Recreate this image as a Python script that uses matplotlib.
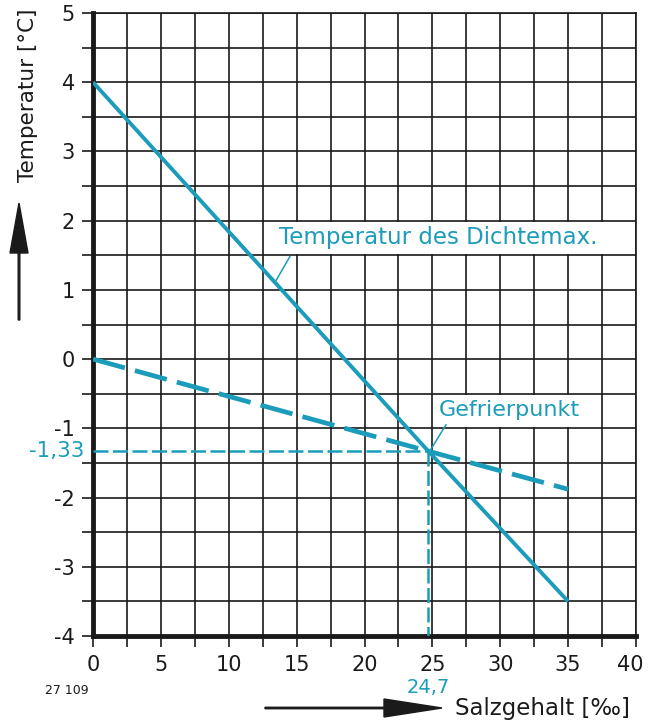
import matplotlib
matplotlib.use("Agg")
import matplotlib.pyplot as plt
import matplotlib.patches as mpatches
import matplotlib.transforms as mtransforms
import numpy as np

# salinity (per mille) and the two characteristic temperatures of sea water
salinity = [0, 24.7, 35]
t_density_max = [4.0, -1.33, -3.5]
t_freezing = [0.0, -1.33, -1.88]

cross_s = 24.7
cross_t = -1.33

xticks = [0, 5, 10, 15, 20, 25, 30, 35, 40]
yticks = [-4, -3, -2, -1, 0, 1, 2, 3, 4, 5]

teal = "#1b9cba"
ink = "#1a1a1a"

fig = plt.figure(figsize=(6.48, 7.26), dpi=100)
ax = fig.add_axes([93 / 648, 1 - 636 / 726, 543 / 648, 623 / 726])

ax.set_xlim(0, 40)
ax.set_ylim(-4, 5)
ax.set_xticks(xticks)
ax.set_yticks(yticks)
ax.set_xticks(np.arange(0, 40.1, 2.5), minor=True)
ax.set_yticks(np.arange(-4, 5.1, 0.5), minor=True)
ax.set_yticklabels([str(v) for v in yticks])
ax.grid(which="both", color=ink, lw=1.2, zorder=1)
ax.tick_params(which="both", direction="out", length=8, width=1.2, color=ink,
               labelsize=15, labelcolor=ink)
ax.tick_params(axis="x", pad=6)
ax.tick_params(axis="y", pad=5)
for side in ["top", "right"]:
    ax.spines[side].set_linewidth(1.2)
    ax.spines[side].set_color(ink)
for side in ["left", "bottom"]:
    ax.spines[side].set_linewidth(3.5)
    ax.spines[side].set_color(ink)
ax.set_axisbelow(True)

# keep the last x label inside the figure edge
last = ax.get_xticklabels()[-1]
last.set_transform(last.get_transform() +
                   mtransforms.ScaledTranslation(-6 / 100, 0, fig.dpi_scale_trans))

# white bands behind the curve labels
ax.add_patch(mpatches.Rectangle((12.6, 1.52), 27.3, 0.46, facecolor="white",
                                edgecolor="none", zorder=2))
ax.add_patch(mpatches.Rectangle((25.1, -0.98), 12.3, 0.46, facecolor="white",
                                edgecolor="none", zorder=2))

# guide lines to the intersection
ax.plot([0, cross_s], [cross_t, cross_t], color=teal, lw=1.8,
        dashes=(6, 1.8), zorder=3)
ax.plot([cross_s, cross_s], [cross_t, -4], color=teal, lw=1.8,
        dashes=(6, 1.8), zorder=3)

ax.plot(salinity, t_density_max, color=teal, lw=2.8, zorder=4,
        solid_capstyle="butt")
ax.plot(salinity, t_freezing, color=teal, lw=3.4, dashes=(7, 2.2), zorder=4,
        dash_capstyle="butt")

ax.text(13.7, 1.76, "Temperatur des Dichtemax.", color=teal, fontsize=16.5,
        va="center", ha="left", zorder=5)
ax.plot([14.5, 13.5], [1.48, 1.14], color=teal, lw=1.1, zorder=5)
ax.text(25.5, -0.74, "Gefrierpunkt", color=teal, fontsize=16,
        va="center", ha="left", zorder=5)
ax.plot([26.0, 24.9], [-0.95, -1.3], color=teal, lw=1.1, zorder=5)

ax.text(-0.6, cross_t, "-1,33", color=teal, fontsize=15.5, ha="right",
        va="center", clip_on=False)
ax.text(cross_s, -4.74, "24,7", color=teal, fontsize=14, ha="center",
        va="center", clip_on=False)

# axis titles with arrows
fig.text(28 / 648, 1 - 95 / 726, "Temperatur [°C]", rotation=90, fontsize=15.5,
         ha="center", va="center", color=ink)
fig.add_artist(mpatches.FancyArrow(19 / 648, 1 - 320 / 726, 0, 117 / 726,
                                   width=0.0025, head_width=18 / 648,
                                   head_length=50 / 726,
                                   length_includes_head=True,
                                   color=ink, transform=fig.transFigure))
fig.add_artist(mpatches.FancyArrow(265 / 648, 1 - 708 / 726, 177 / 648, 0,
                                   width=0.002, head_width=18 / 726,
                                   head_length=58 / 648,
                                   length_includes_head=True,
                                   color=ink, transform=fig.transFigure))
fig.text(455 / 648, 1 - 708 / 726, "Salzgehalt [‰]", fontsize=16.5,
         ha="left", va="center", color=ink)
fig.text(45 / 648, 1 - 690 / 726, "27 109", fontsize=9, ha="left",
         va="center", color=ink)

fig.savefig("out.png", dpi=100)
